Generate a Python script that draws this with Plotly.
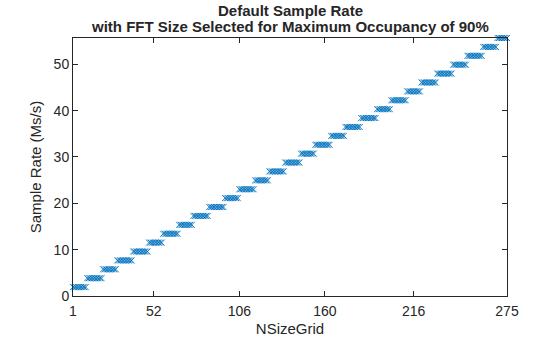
import numpy as np
import plotly.graph_objects as go

# Sample rate (Ms/s) for each FFT-size step, and the last NSizeGrid covered by that step
step_rates = [1.92, 3.84, 5.76, 7.68, 9.60, 11.52, 13.44, 15.36, 17.28, 19.20,
              21.12, 23.04, 24.96, 26.88, 28.80, 30.72, 32.64, 34.56, 36.48, 38.40,
              40.32, 42.24, 44.16, 46.08, 48.00, 49.92, 51.84, 53.76, 55.68]
step_last_nsizegrid = [9, 19, 28, 38, 48, 57, 67, 76, 86, 96,
                       105, 115, 124, 134, 144, 153, 163, 172, 182, 192,
                       201, 211, 220, 230, 240, 249, 259, 268, 275]
x_tick_vals = [1, 52, 106, 160, 216, 275]
y_tick_vals = [0, 10, 20, 30, 40, 50]
title_lines = ["Default Sample Rate",
               "with FFT Size Selected for Maximum Occupancy of 90%"]

nsizegrid = []
sample_rate = []
start = 1
for rate, last in zip(step_rates, step_last_nsizegrid):
    for n in range(start, last + 1):
        nsizegrid.append(n)
        sample_rate.append(rate)
    start = last + 1

axis_color = "#262626"
font_family = "Liberation Sans, Arial, sans-serif"

fig = go.Figure()
fig.add_trace(go.Scatter(
    x=nsizegrid, y=sample_rate, mode="markers",
    marker=dict(symbol="x-thin", size=6, line=dict(width=0.9, color="#0072BD"), color="#0072BD"),
    cliponaxis=False, showlegend=False,
))

# Two-line bold title placed above the plot area
for text, shift in zip(title_lines, [28, 12]):
    fig.add_annotation(
        text=f"<b>{text}</b>", xref="paper", yref="paper", x=0.5, y=1,
        xanchor="center", yanchor="middle", yshift=shift, showarrow=False,
        font=dict(size=15, color=axis_color, family=font_family),
    )

axis_common = dict(
    showgrid=False, zeroline=False, showline=True, linecolor=axis_color, linewidth=1,
    mirror="ticks", ticks="inside", ticklen=5, tickcolor=axis_color, automargin=False,
    tickfont=dict(size=14, color=axis_color, family=font_family),
)
fig.update_layout(
    width=560, height=337,
    margin=dict(l=73, r=53, t=38, b=41),
    paper_bgcolor="white", plot_bgcolor="white",
    font=dict(family=font_family, color=axis_color),
    xaxis=dict(range=[1, 275], tickvals=x_tick_vals, ticklabelstandoff=2,
               title=dict(text="NSizeGrid", font=dict(size=15, color=axis_color), standoff=5),
               **axis_common),
    yaxis=dict(range=[0, 55.68], tickvals=y_tick_vals,
               title=dict(text="Sample Rate (Ms/s)", font=dict(size=15, color=axis_color), standoff=8),
               **axis_common),
)

fig.write_html("out.html")
